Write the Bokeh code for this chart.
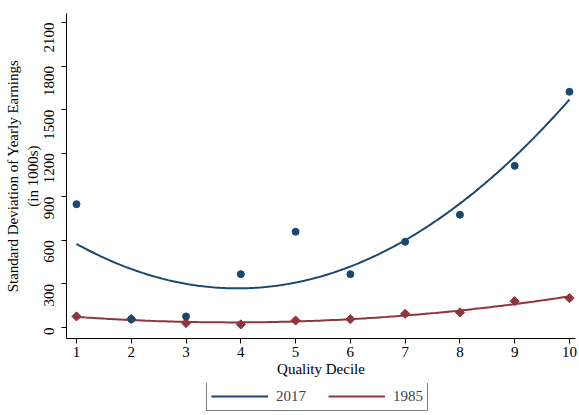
import math
import numpy as np
from bokeh.plotting import figure
from bokeh.layouts import column
from bokeh.models import Legend, LegendItem, Range1d, FixedTicker
from bokeh.embed import file_html
from bokeh.resources import INLINE

deciles = [1, 2, 3, 4, 5, 6, 7, 8, 9, 10]
sd_2017 = [849, 57, 76, 367, 659, 367, 590, 776, 1113, 1623]
sd_1985 = [76, 58, 30, 21, 48, 57, 94, 103, 181, 202]
y_ticks = [0, 300, 600, 900, 1200, 1500, 1800, 2100]
series_names = ["2017", "1985"]

NAVY = "#1a476f"
MAROON = "#90353b"
FONT = "Liberation Serif"
FS = "15px"

p = figure(width=579, height=383, output_backend="svg", toolbar_location=None,
           x_range=Range1d(0.8175, 10.11), y_range=Range1d(-76, 2162),
           min_border_left=66, min_border_right=4, min_border_top=13, min_border_bottom=45)
p.outline_line_color = None
p.xgrid.visible = False
p.ygrid.visible = False

# quadratic fits (as Stata qfit)
xs = np.linspace(1, 10, 200)
c17 = np.polyfit(deciles, sd_2017, 2)
c85 = np.polyfit(deciles, sd_1985, 2)
p.line(xs, np.polyval(c17, xs), line_color=NAVY, line_width=2)
p.line(xs, np.polyval(c85, xs), line_color=MAROON, line_width=2)

p.scatter(deciles, sd_1985, marker="square", angle=math.pi / 4, size=6.5,
          fill_color=MAROON, line_color=MAROON)
p.scatter(deciles, sd_2017, marker="circle", size=7, fill_color=NAVY, line_color=NAVY)

for ax in (p.xaxis[0], p.yaxis[0]):
    ax.axis_line_color = "black"
    ax.axis_line_width = 1
    ax.major_tick_line_color = "black"
    ax.major_tick_in = 0
    ax.major_tick_out = 5
    ax.minor_tick_line_color = None
    ax.major_label_text_font = FONT
    ax.major_label_text_font_size = FS
    ax.major_label_text_color = "black"
    ax.axis_label_text_font = FONT
    ax.axis_label_text_font_size = FS
    ax.axis_label_text_font_style = "normal"
    ax.axis_label_text_color = "black"

p.xaxis.ticker = FixedTicker(ticks=deciles)
p.yaxis.ticker = FixedTicker(ticks=y_ticks)
p.xaxis.axis_label = "Quality Decile"
p.xaxis.axis_label_standoff = 1
p.xaxis.major_label_standoff = 3
p.yaxis.axis_label = "Standard Deviation of Yearly Earnings\n(in 1000s)"
p.yaxis.major_label_orientation = math.pi / 2
p.yaxis.major_label_standoff = 12
p.yaxis.axis_label_standoff = -4

# legend strip below the plot
q = figure(width=579, height=32, output_backend="svg", toolbar_location=None,
           x_range=Range1d(0, 1), y_range=Range1d(0, 1),
           x_axis_location=None, y_axis_location=None,
           min_border_left=0, min_border_right=0, min_border_top=0, min_border_bottom=0)
q.outline_line_color = None
q.xgrid.visible = False
q.ygrid.visible = False
g17 = q.line([5, 6], [5, 6], line_color=NAVY, line_width=2)
g85 = q.line([5, 6], [5, 6], line_color=MAROON, line_width=2)

legend = Legend(items=[LegendItem(label=series_names[0], renderers=[g17]),
                       LegendItem(label=series_names[1], renderers=[g85])],
                orientation="horizontal", location=(140, 4),
                label_text_font=FONT, label_text_font_size=FS,
                glyph_width=57, glyph_height=20, label_standoff=8, spacing=22,
                padding=4, margin=0, border_line_color="black", border_line_width=1,
                background_fill_alpha=1)
q.add_layout(legend, "center")

open("out.html", "w").write(file_html(column(p, q, spacing=0), INLINE))
